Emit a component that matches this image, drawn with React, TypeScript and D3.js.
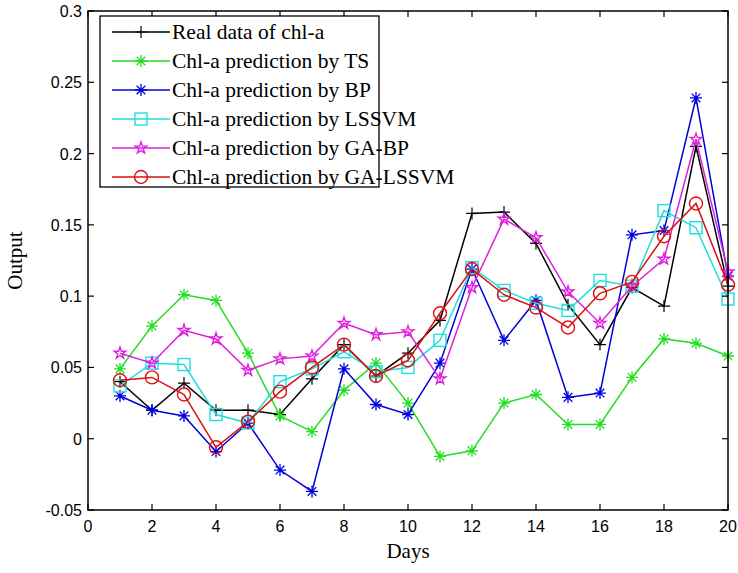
import React, { useEffect, useRef } from "react";
import * as d3 from "d3";

const days = d3.range(1, 21);
const realData = [0.04, 0.02, 0.039, 0.02, 0.02, 0.017, 0.042, 0.066, 0.044, 0.06, 0.083, 0.158, 0.159, 0.137, 0.094, 0.066, 0.106, 0.093, 0.205, 0.107];
const tsPred = [0.049, 0.079, 0.101, 0.097, 0.06, 0.016, 0.005, 0.034, 0.053, 0.025, -0.0124, -0.0085, 0.025, 0.031, 0.01, 0.01, 0.043, 0.07, 0.067, 0.058];
const bpPred = [0.03, 0.02, 0.016, -0.009, 0.011, -0.022, -0.037, 0.049, 0.024, 0.017, 0.053, 0.119, 0.069, 0.097, 0.029, 0.032, 0.143, 0.146, 0.239, 0.114];
const lssvmPred = [0.037, 0.053, 0.052, 0.017, 0.011, 0.04, 0.049, 0.061, 0.047, 0.05, 0.069, 0.12, 0.104, 0.095, 0.09, 0.111, 0.107, 0.16, 0.148, 0.098];
const gabpPred = [0.06, 0.053, 0.076, 0.07, 0.048, 0.056, 0.058, 0.081, 0.073, 0.075, 0.042, 0.106, 0.154, 0.141, 0.103, 0.081, 0.107, 0.126, 0.21, 0.117];
const galssvmPred = [0.041, 0.043, 0.031, -0.006, 0.012, 0.033, 0.05, 0.066, 0.044, 0.055, 0.088, 0.119, 0.101, 0.092, 0.078, 0.102, 0.11, 0.142, 0.165, 0.108];

const seriesNames = [
  "Real data of chl-a",
  "Chl-a prediction by TS",
  "Chl-a prediction by BP",
  "Chl-a prediction by LSSVM",
  "Chl-a prediction by GA-BP",
  "Chl-a prediction by GA-LSSVM",
];
const seriesValues = [realData, tsPred, bpPred, lssvmPred, gabpPred, galssvmPred];
const seriesColors = ["#000000", "#22dd22", "#0000dd", "#22dddd", "#dd22dd", "#dd1111"];
const seriesMarkers = ["plus", "asterisk", "asterisk", "square", "star", "circle"];

const xTicks = d3.range(0, 21, 2);
const yTicks = [-0.05, 0, 0.05, 0.1, 0.15, 0.2, 0.25, 0.3];

function drawMarker(g: any, type: string, color: string) {
  const s = 6;
  if (type === "plus") {
    g.append("path").attr("d", `M${-s},0H${s}M0,${-s}V${s}`).attr("stroke", color).attr("stroke-width", 1.2).attr("fill", "none");
  } else if (type === "asterisk") {
    const d = s * 0.72;
    g.append("path")
      .attr("d", `M${-s},0H${s}M0,${-s}V${s}M${-d},${-d}L${d},${d}M${-d},${d}L${d},${-d}`)
      .attr("stroke", color).attr("stroke-width", 1.3).attr("fill", "none");
  } else if (type === "square") {
    g.append("rect").attr("x", -6).attr("y", -6).attr("width", 12).attr("height", 12)
      .attr("stroke", color).attr("stroke-width", 1.4).attr("fill", "none");
  } else if (type === "star") {
    g.append("path").attr("d", d3.symbol(d3.symbolStar, 42)())
      .attr("stroke", color).attr("stroke-width", 1.4).attr("fill", "none");
  } else if (type === "circle") {
    g.append("circle").attr("r", 6.5).attr("stroke", color).attr("stroke-width", 1.4).attr("fill", "none");
  }
}

export default function App() {
  const svgRef = useRef<SVGSVGElement>(null);

  useEffect(() => {
    const width = 738;
    const height = 573;
    const margin = { left: 88, right: 10, top: 11, bottom: 63 };

    const svg = d3.select(svgRef.current).attr("width", width).attr("height", height);
    svg.selectAll("*").remove();
    svg.append("rect").attr("width", width).attr("height", height).attr("fill", "#fff");

    const x = d3.scaleLinear().domain([0, 20]).range([margin.left, width - margin.right]);
    const y = d3.scaleLinear().domain([-0.05, 0.3]).range([height - margin.bottom, margin.top]);

    const [x0, x1] = x.range();
    const [y0, y1] = y.range();

    // series
    const line = d3.line<number>().x((d, i) => x(days[i])).y((d) => y(d));
    seriesValues.forEach((vals, k) => {
      svg.append("path").datum(vals).attr("d", line).attr("fill", "none")
        .attr("stroke", seriesColors[k]).attr("stroke-width", 1.5);
      vals.forEach((v, i) => {
        const g = svg.append("g").attr("transform", `translate(${x(days[i])},${y(v)})`);
        drawMarker(g, seriesMarkers[k], seriesColors[k]);
      });
    });

    // axes box
    const axes = svg.append("g");
    axes.append("rect").attr("x", x0).attr("y", y1).attr("width", x1 - x0).attr("height", y0 - y1)
      .attr("fill", "none").attr("stroke", "#000").attr("stroke-width", 1.5);

    const tl = 6;
    xTicks.forEach((t) => {
      axes.append("line").attr("x1", x(t)).attr("x2", x(t)).attr("y1", y0).attr("y2", y0 - tl).attr("stroke", "#000").attr("stroke-width", 1.2);
      axes.append("line").attr("x1", x(t)).attr("x2", x(t)).attr("y1", y1).attr("y2", y1 + tl).attr("stroke", "#000").attr("stroke-width", 1.2);
      axes.append("text").attr("x", x(t)).attr("y", y0 + 22).attr("text-anchor", "middle")
        .attr("font-family", "Liberation Sans, Arial, sans-serif").attr("font-size", 16).text(t);
    });
    yTicks.forEach((t) => {
      axes.append("line").attr("x1", x0).attr("x2", x0 + tl).attr("y1", y(t)).attr("y2", y(t)).attr("stroke", "#000").attr("stroke-width", 1.2);
      axes.append("line").attr("x1", x1).attr("x2", x1 - tl).attr("y1", y(t)).attr("y2", y(t)).attr("stroke", "#000").attr("stroke-width", 1.2);
      axes.append("text").attr("x", x0 - 6).attr("y", y(t) + 6).attr("text-anchor", "end")
        .attr("font-family", "Liberation Sans, Arial, sans-serif").attr("font-size", 16).text(String(t));
    });

    axes.append("text").attr("x", (x0 + x1) / 2).attr("y", 558).attr("text-anchor", "middle")
      .attr("font-family", "Liberation Serif, Times New Roman, serif").attr("font-size", 21).text("Days");
    axes.append("text").attr("transform", `translate(22,${(y0 + y1) / 2}) rotate(-90)`).attr("text-anchor", "middle")
      .attr("font-family", "Liberation Serif, Times New Roman, serif").attr("font-size", 21).text("Output");

    // legend
    const lg = svg.append("g");
    lg.append("rect").attr("x", 100).attr("y", 16).attr("width", 279).attr("height", 171)
      .attr("fill", "#fff").attr("stroke", "#000").attr("stroke-width", 1.3);
    seriesNames.forEach((name, k) => {
      const ly = 32 + k * 29;
      lg.append("line").attr("x1", 112).attr("x2", 170).attr("y1", ly).attr("y2", ly)
        .attr("stroke", seriesColors[k]).attr("stroke-width", 1.5);
      const g = lg.append("g").attr("transform", `translate(141,${ly})`);
      drawMarker(g, seriesMarkers[k], seriesColors[k]);
      lg.append("text").attr("x", 172).attr("y", ly + 7)
        .attr("font-family", "Liberation Serif, Times New Roman, serif").attr("font-size", 21.5).text(name);
    });
  }, []);

  return <svg ref={svgRef} style={{ position: "absolute", left: 0, top: 0 }}></svg>;
}
